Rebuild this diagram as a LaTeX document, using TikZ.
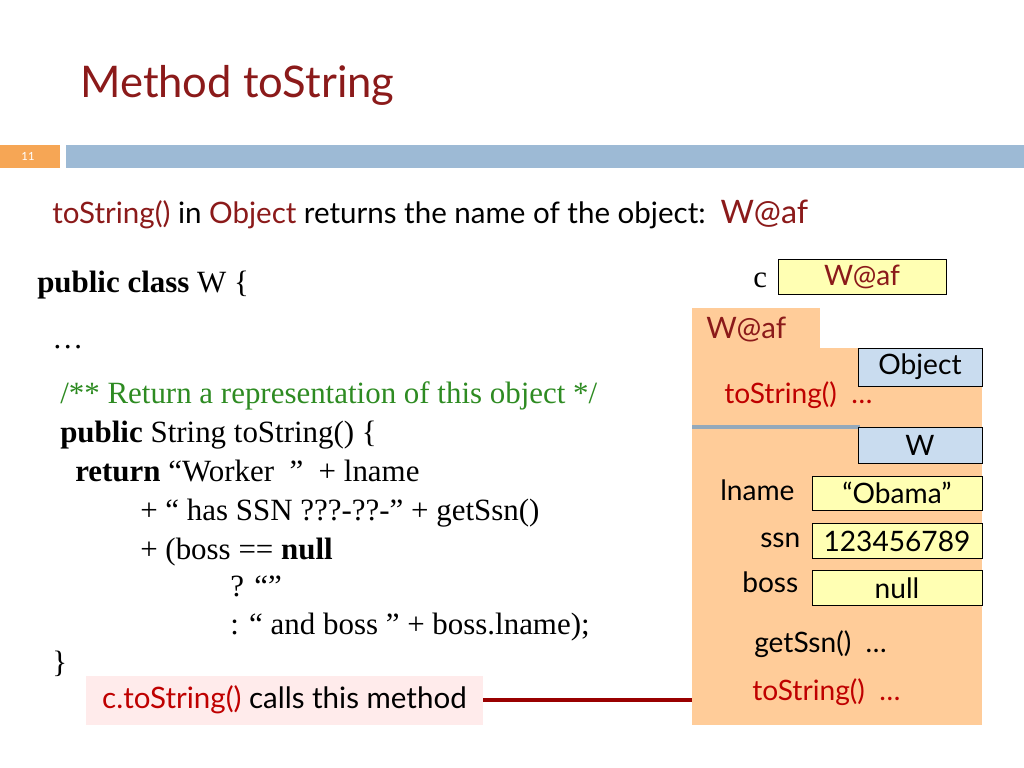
\documentclass[tikz,border=0pt]{standalone}
\usepackage{fontspec}
\setmainfont{Liberation Serif}
\newfontfamily\slidefont{Lato}
\usetikzlibrary{positioning}
\definecolor{titlered}{HTML}{8B1A1A}
\definecolor{barblue}{HTML}{9DBAD5}
\definecolor{peach}{HTML}{FFCC99}
\definecolor{fieldyellow}{HTML}{FFFFB3}
\definecolor{classblue}{HTML}{C9DCEF}
\definecolor{codegreen}{HTML}{2E8B22}
\tikzset{
    x=0.025cm, y=-0.025cm,
    code/.style={anchor=base west, inner sep=0, font=\fontsize{22}{22}\selectfont},
    sans/.style={anchor=base west, inner sep=0, font=\slidefont\fontsize{20}{20}\selectfont},
    field/.style={draw, fill=fieldyellow, font=\slidefont\fontsize{20}{20}\selectfont},
    classbox/.style={draw, fill=classblue, font=\slidefont\fontsize{20}{20}\selectfont}
}
\begin{document}
\begin{tikzpicture}
    \useasboundingbox (0,0) rectangle (1024,768);
    \node[anchor=base west, inner sep=0, text=titlered, font=\slidefont\fontsize{31}{31}\selectfont] (title) at (80,98) {Method toString};
    \fill[orange!80!brown!70] (0,145) rectangle (60,168);
    \node[text=white, font=\slidefont\fontsize{8}{8}\selectfont] (num) at (28,156) {11};
    \fill[barblue] (66,145) rectangle (1024,168);

    \node[sans, font=\slidefont\fontsize{21}{21}\selectfont] (intro) at (52,223) {\textcolor{titlered}{toString()} in \textcolor{titlered}{Object} returns the name of the object:\ \ \textcolor{titlered}{\fontsize{23}{23}\selectfont W@af}};

    % code
    \node[code] (l1) at (37,292) {\textbf{public class} W \{};
    \node[code] (l2) at (52,348) {\dots};
    \node[code, text=codegreen] (l3) at (60,403) {/** Return a representation of this object */};
    \node[code] (l4) at (60,442) {\textbf{public} String toString() \{};
    \node[code] (l5) at (75,481) {\textbf{return} “Worker\ \ ” \ + lname};
    \node[code] (l6) at (140,520) {+ “ has SSN ???-??-” + getSsn()};
    \node[code] (l7) at (140,559) {+ (boss == \textbf{null}};
    \node[code] (l8) at (230,596) {? “”};
    \node[code] (l9) at (230,634) {: “ and boss ” + boss.lname);};
    \node[code] (l10) at (52,672) {\}};

    % variable c
    \node[code] (cvar) at (753,287) {c};
    \node[field, minimum width=168*0.025cm, minimum height=35*0.025cm, text=titlered] (cbox) at (862,277) {W@af};

    % object
    \fill[peach] (692,308) rectangle (820,350);
    \fill[peach] (692,348) rectangle (982,725);
    \node[anchor=base west, inner sep=0, text=titlered, font=\slidefont\fontsize{21}{21}\selectfont] (objname) at (706,338) {W@af};
    \node[classbox, minimum width=124*0.025cm, minimum height=38*0.025cm] (objcls) at (920,367) {Object};
    \node[sans, text=red!75!black] (ts1) at (724,403) {toString()\ \ \dots};
    \draw[barblue!70!gray, line width=2.5pt] (692,427) -- (860,427);
    \node[classbox, minimum width=124*0.025cm, minimum height=36*0.025cm] (wcls) at (920,445) {W};
    \node[sans] (lname) at (720,500) {lname};
    \node[field, minimum width=170*0.025cm, minimum height=34*0.025cm] (lbox) at (897,493) {“Obama”};
    \node[sans] (ssn) at (760,547) {ssn};
    \node[field, minimum width=170*0.025cm, minimum height=35*0.025cm, inner sep=1pt] (sbox) at (897,541) {123456789};
    \node[sans] (boss) at (742,592) {boss};
    \node[field, minimum width=170*0.025cm, minimum height=35*0.025cm] (bbox) at (897,588) {null};
    \node[sans] (gs) at (754,652) {getSsn()\ \ \dots};
    \node[sans, text=red!75!black] (ts2) at (752,700) {toString()\ \ \dots};

    % caller
    \node[fill=red!8, minimum width=397*0.025cm, minimum height=49*0.025cm, font=\slidefont\fontsize{21}{21}\selectfont] (call) at (284.5,700) {\textcolor{red!75!black}{c.toString()} calls this method};
    \coordinate (objedge) at (692,700);
    \draw[red!60!black, line width=3pt] (call.east) -- (objedge);
\end{tikzpicture}
\end{document}
